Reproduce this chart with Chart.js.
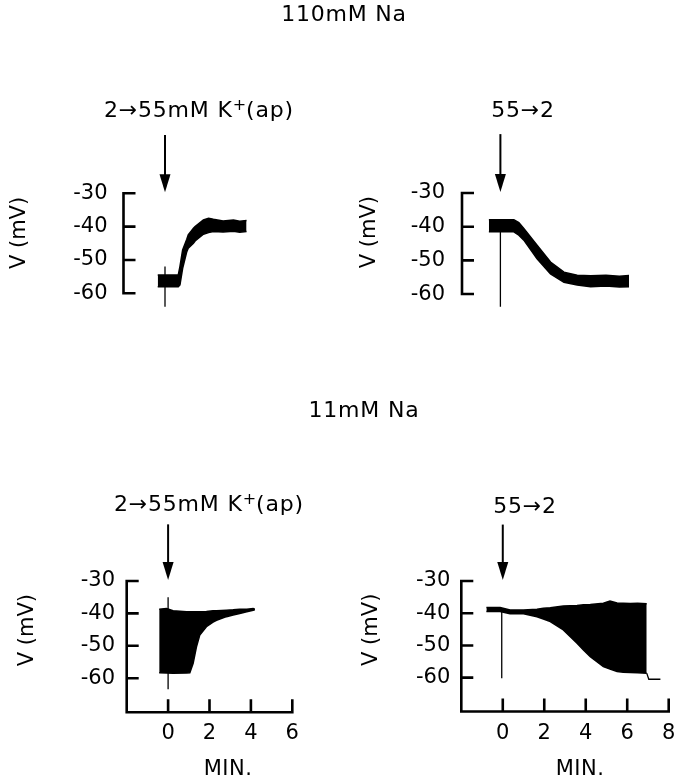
<!DOCTYPE html>
<html>
<head>
<meta charset="utf-8">
<script src="https://cdn.jsdelivr.net/npm/chart.js@4.4.1/dist/chart.umd.min.js"></script>
<style>
  body { margin: 0; background: #fff; }
  #wrap { position: relative; width: 674px; height: 782px; font-family: "DejaVu Sans", sans-serif; color: #000; }
  #wrap canvas { position: absolute; left: 0; top: 0; }
  .lbl { position: absolute; font-size: 22px; letter-spacing: 0.8px; line-height: 1; white-space: nowrap; }
  .lbl sup { font-size: 16px; line-height: 0; vertical-align: 7px; letter-spacing: 0; }
  .ax { font-size: 21px; letter-spacing: 0.5px; }
  .c { transform: translate(-50%, -50%); }
  .l { transform: translateY(-50%); }
</style>
</head>
<body>
<div id="wrap">
  <canvas id="tl" width="674" height="782"></canvas>
  <canvas id="tr" width="674" height="782"></canvas>
  <canvas id="bl" width="674" height="782"></canvas>
  <canvas id="br" width="674" height="782"></canvas>

  <div class="lbl c" style="left:344px;top:14px">110mM Na</div>
  <div class="lbl l" style="left:104px;top:110px">2→55mM K<sup>+</sup>(ap)</div>
  <div class="lbl c" style="left:523px;top:110px">55→2</div>

  <div class="lbl c" style="left:364px;top:410px">11mM Na</div>
  <div class="lbl l" style="left:114px;top:504px">2→55mM K<sup>+</sup>(ap)</div>
  <div class="lbl c" style="left:525px;top:506px">55→2</div>

  <div class="lbl ax c" style="left:228px;top:768px">MIN.</div>
  <div class="lbl ax c" style="left:580px;top:768px">MIN.</div>
</div>

<script>
// tick labels
const yTicks = [-30, -40, -50, -60];
const blXTicks = [0, 2, 4, 6];
const brXTicks = [0, 2, 4, 6, 8];

// 110 mM Na, 2 -> 55 mM K (min, mV envelope of the trace)
const tlTime  = [-0.35, 0.64, 0.72, 0.85, 1.05, 1.12, 1.37, 1.45, 1.85, 2.1, 2.33, 2.8, 3.3, 3.6, 3.93];
const tlUpper = [-54.5, -54.5, -52, -47, -43.8, -42.5, -40.5, -40, -38, -37.5, -37.8, -38.3, -38.0, -38.4, -38.2];
const tlLower = [-58, -58, -57.5, -52.5, -47.5, -46.5, -45, -44.3, -42.3, -41.8, -41.5, -41.6, -41.4, -41.7, -41.5];
const tlMarkX = [0, 0];
const tlMarkY = [-52, -64];

// 110 mM Na, 55 -> 2
const trTime  = [-0.6, 0.7, 0.96, 1.22, 1.91, 2.61, 3.31, 4.0, 4.7, 5.5, 6.2, 6.7];
const trUpper = [-37.9, -37.9, -38.8, -40.5, -45.5, -50.5, -53.5, -54.4, -54.6, -54.4, -54.7, -54.5];
const trLower = [-41.5, -41.5, -42.5, -44.0, -49.5, -54.0, -56.5, -57.3, -57.8, -57.6, -57.9, -57.8];
const trMarkX = [0, 0];
const trMarkY = [-40, -63.8];

// 11 mM Na, 2 -> 55 mM K
const blTime  = [-0.43, -0.08, 0.24, 0.89, 1.05, 1.21, 1.37, 1.53, 1.85, 2.17, 2.34, 2.82, 3.14, 3.46, 3.8, 4.11, 4.19];
const blUpper = [-38.7, -38.5, -39.2, -39.5, -39.5, -39.5, -39.5, -39.5, -39.4, -39.2, -39.2, -39.0, -38.9, -38.7, -38.7, -38.5, -38.7];
const blLower = [-58.3, -58.4, -58.5, -58.4, -58.3, -55.4, -50.3, -46.7, -44.1, -42.7, -42.1, -41.0, -40.5, -40.0, -39.5, -39.0, -38.9];
const blMarkX = [0, 0];
const blMarkY = [-35, -63.4];

// 11 mM Na, 55 -> 2
const brTime  = [-0.79, -0.13, 0.35, 1.0, 1.65, 1.96, 2.29, 2.92, 3.58, 3.89, 4.22, 4.85, 5.17, 5.51, 5.81, 6.15, 6.5, 6.94];
const brUpper = [-38.2, -38.2, -39.0, -39.0, -38.8, -38.5, -38.3, -37.8, -37.6, -37.4, -37.3, -36.9, -36.2, -36.8, -36.9, -37.0, -36.9, -37.1];
const brLower = [-39.5, -39.5, -40.2, -40.2, -41.1, -41.8, -42.6, -45.2, -49.3, -51.4, -53.5, -56.6, -57.3, -58.1, -58.3, -58.4, -58.5, -58.6];
const brMarkX = [-0.05, -0.05];
const brMarkY = [-39.5, -60.2];
const brTailX = [6.94, 7.04, 7.6];
const brTailY = [-58.6, -60.5, -60.5];

Chart.defaults.font.family = "DejaVu Sans";
Chart.defaults.color = "#000";

const pts = (xs, ys) => xs.map((x, i) => ({ x, y: ys[i] }));

// axis bracket, tick marks and the stimulus arrow
const frame = {
  id: "frame",
  afterDatasetsDraw(chart, args, opts) {
    const { ctx, chartArea, scales: { x, y } } = chart;
    const ax = chartArea.left;
    const yTop = y.getPixelForValue(yTicks[0]);
    const yBot = opts.xTicks ? chartArea.bottom : y.getPixelForValue(yTicks[yTicks.length - 1]);
    ctx.save();
    ctx.strokeStyle = "#000";
    ctx.lineWidth = 2.6;
    ctx.beginPath();
    ctx.moveTo(ax, yTop - 1.3);
    ctx.lineTo(ax, yBot + 1.3);
    yTicks.forEach(v => {
      const py = y.getPixelForValue(v);
      ctx.moveTo(ax, py);
      ctx.lineTo(ax + 12, py);
    });
    if (opts.xTicks) {
      const by = chartArea.bottom;
      ctx.moveTo(ax, by);
      ctx.lineTo(x.getPixelForValue(x.max) + 1.3, by);
      opts.xTicks.forEach(v => {
        const px = x.getPixelForValue(v);
        ctx.moveTo(px, by);
        ctx.lineTo(px, by - 13);
      });
    }
    ctx.stroke();

    const px = x.getPixelForValue(0);
    const a0 = y.getPixelForValue(-12.5);
    const a1 = y.getPixelForValue(-29.7);
    ctx.lineWidth = 2;
    ctx.beginPath();
    ctx.moveTo(px, a0);
    ctx.lineTo(px, a1 - 14);
    ctx.stroke();
    ctx.fillStyle = "#000";
    ctx.beginPath();
    ctx.moveTo(px - 5.5, a1 - 18);
    ctx.lineTo(px + 5.5, a1 - 18);
    ctx.lineTo(px, a1);
    ctx.closePath();
    ctx.fill();
    ctx.restore();
  }
};

function makePanel(id, cfg) {
  const line = { borderColor: "#000", borderWidth: 1.5, pointRadius: 0, tension: 0 };
  const datasets = [
    { ...line, data: pts(cfg.time, cfg.upper), fill: "+1", backgroundColor: "#000" },
    { ...line, data: pts(cfg.time, cfg.lower), fill: false },
    { ...line, data: pts(cfg.markX, cfg.markY), fill: false, borderWidth: 1.3 }
  ];
  if (cfg.tailX) datasets.push({ ...line, data: pts(cfg.tailX, cfg.tailY), fill: false, borderWidth: 1.3 });

  const b = cfg.box;
  new Chart(document.getElementById(id), {
    type: "line",
    data: { datasets },
    plugins: [frame],
    options: {
      responsive: false,
      animation: false,
      devicePixelRatio: 1,
      layout: {
        padding: {
          left: b.left - b.yW,
          right: 674 - b.right,
          top: b.top,
          bottom: 782 - b.bottom - (cfg.xTicks ? b.xH : 0)
        }
      },
      plugins: { legend: { display: false }, tooltip: { enabled: false }, frame: { xTicks: cfg.xTicks } },
      scales: {
        x: {
          type: "linear", min: -2, max: cfg.xMax,
          display: !!cfg.xTicks,
          grid: { display: false, drawTicks: false },
          border: { display: false },
          afterBuildTicks: s => { if (cfg.xTicks) s.ticks = cfg.xTicks.map(v => ({ value: v })); },
          afterFit: s => {
            if (cfg.xTicks) s.height = b.xH;
            s.paddingLeft = 0;
            s.paddingRight = 0;
          },
          ticks: { padding: 9, font: { size: 21 }, maxRotation: 0, autoSkip: false }
        },
        y: {
          type: "linear", min: cfg.yMin, max: cfg.yMax,
          grid: { display: false, drawTicks: false },
          border: { display: false },
          afterBuildTicks: s => { s.ticks = yTicks.map(v => ({ value: v })); },
          afterFit: s => { s.width = b.yW; },
          ticks: { padding: b.tickPad, font: { size: 21 }, callback: v => String(v) },
          title: { display: true, text: "V (mV)", font: { size: 21, lineHeight: 1.2 }, padding: { top: b.titlePad, bottom: 0 } }
        }
      }
    }
  });
}

makePanel("tl", {
  time: tlTime, upper: tlUpper, lower: tlLower, markX: tlMarkX, markY: tlMarkY,
  xMax: 6, yMin: -67.8, yMax: -16,
  box: { left: 123.5, right: 289.5, top: 146.6, bottom: 319.3, yW: 123.5, tickPad: 16, titlePad: 7.4 }
});
makePanel("tr", {
  time: trTime, upper: trUpper, lower: trLower, markX: trMarkX, markY: trMarkY,
  xMax: 8, yMin: -67.2, yMax: -16,
  box: { left: 462, right: 654, top: 145.9, bottom: 318.3, yW: 112, tickPad: 17, titlePad: 7.4 }
});
makePanel("bl", {
  time: blTime, upper: blUpper, lower: blLower, markX: blMarkX, markY: blMarkY,
  xMax: 6, yMin: -70.5, yMax: -19.8, xTicks: blXTicks,
  box: { left: 126.7, right: 292.3, top: 548, bottom: 712.2, yW: 126.7, xH: 69.8, tickPad: 11.7, titlePad: 15.4 }
});
makePanel("br", {
  time: brTime, upper: brUpper, lower: brLower, markX: brMarkX, markY: brMarkY, tailX: brTailX, tailY: brTailY,
  xMax: 8, yMin: -70.5, yMax: -19.8, xTicks: brXTicks,
  box: { left: 461.3, right: 668.7, top: 548.1, bottom: 711.5, yW: 111.3, xH: 70.5, tickPad: 11, titlePad: 9.4 }
});
</script>
</body>
</html>
